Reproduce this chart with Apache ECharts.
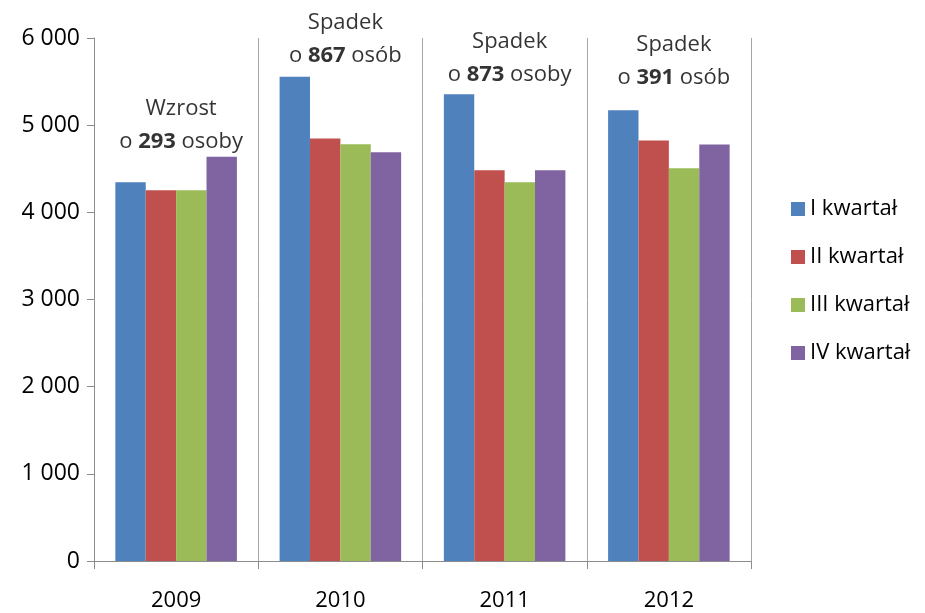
<!DOCTYPE html>
<html>
<head>
<meta charset="utf-8">
<script src="https://cdn.jsdelivr.net/npm/echarts@6/dist/echarts.min.js"></script>
<style>html,body{margin:0;padding:0;background:#fff;}#c{width:925px;height:613px;}</style>
</head>
<body>
<div id="c"></div>
<script>
const years = ['2009', '2010', '2011', '2012'];
const seriesNames = ['I kwartał', 'II kwartał', 'III kwartał', 'IV kwartał'];
const q1 = [4345, 5556, 5356, 5170];
const q2 = [4254, 4848, 4483, 4825];
const q3 = [4254, 4780, 4346, 4506];
const q4 = [4638, 4689, 4483, 4779];
const yTicks = [0, 1000, 2000, 3000, 4000, 5000, 6000];
const annotWord = ['Wzrost', 'Spadek', 'Spadek', 'Spadek'];
const annotNum = ['293', '867', '873', '391'];
const annotUnit = ['osoby', 'osób', 'osoby', 'osób'];
const annotLevel = [5000, 5990, 5766, 5737];

const colors = ['#4f81bd', '#c0504d', '#9bbb59', '#8064a2'];
const FONT = 'Open Sans';
const values = [q1, q2, q3, q4];

const barSeries = seriesNames.map((n, i) => ({
  name: n,
  type: 'bar',
  data: values[i],
  barGap: '0%',
  barCategoryGap: '26%',
  itemStyle: { color: colors[i] },
  emphasis: { disabled: true }
}));

const annotSeries = {
  type: 'scatter',
  name: 'annot',
  data: years.map((y, i) => [y, annotLevel[i]]),
  symbolSize: 0,
  silent: true,
  label: {
    show: true,
    position: 'inside',
    offset: [5, 0],
    formatter: p => '{a|' + annotWord[p.dataIndex] + '}\n{a|o }{b|' + annotNum[p.dataIndex] + '}{a| ' + annotUnit[p.dataIndex] + '}',
    rich: {
      a: { fontFamily: FONT, fontSize: 22, color: '#000', lineHeight: 33 },
      b: { fontFamily: FONT, fontSize: 22, fontWeight: 'bold', color: '#000', lineHeight: 33 }
    }
  }
};

const chart = echarts.init(document.getElementById('c'), null, { renderer: 'canvas' });
chart.setOption({
  animation: false,
  backgroundColor: '#fff',
  grid: { left: 94, right: 174, top: 38, bottom: 52, containLabel: false },
  legend: {
    data: seriesNames,
    orient: 'vertical',
    left: 786,
    top: 193,
    itemWidth: 14,
    itemHeight: 14,
    itemGap: 26,
    icon: 'rect',
    textStyle: { fontFamily: FONT, fontSize: 22, color: '#000' },
    selectedMode: false
  },
  xAxis: {
    type: 'category',
    data: years,
    axisLine: { lineStyle: { color: '#8c8c8c', width: 1 } },
    axisTick: { show: true, length: 8, lineStyle: { color: '#8c8c8c' } },
    axisLabel: { fontFamily: FONT, fontSize: 22, color: '#000', margin: 29 },
    splitLine: { show: true, lineStyle: { color: '#a6a6a6', width: 1 } }
  },
  yAxis: {
    type: 'value',
    min: 0,
    max: 6000,
    interval: 1000,
    axisLine: { show: true, lineStyle: { color: '#8c8c8c', width: 1 } },
    axisTick: { show: true, length: 7, lineStyle: { color: '#8c8c8c' } },
    splitLine: { show: false },
    axisLabel: {
      fontFamily: FONT, fontSize: 23, color: '#000', margin: 14,
      formatter: v => yTicks.includes(v) ? String(v).replace(/\B(?=(\d{3})+(?!\d))/g, ' ') : ''
    }
  },
  series: barSeries.concat([annotSeries])
});
</script>
</body>
</html>
